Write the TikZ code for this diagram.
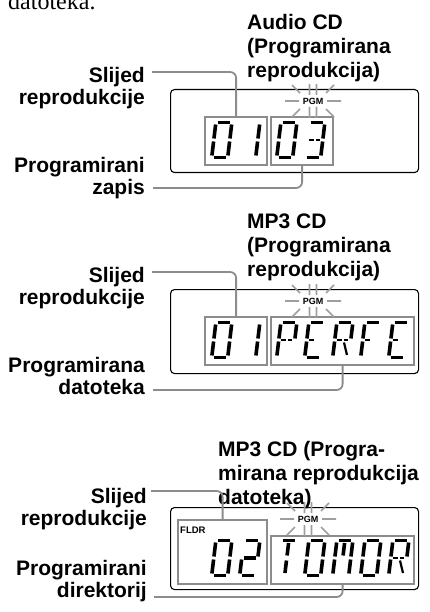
\documentclass[tikz,border=0pt]{standalone}
\usepackage{fontspec}
\setmainfont{Liberation Sans}
\newfontfamily\textoserif{Liberation Serif}
\usetikzlibrary{positioning}

\definecolor{lcdgris}{gray}{0.55}
\definecolor{rayogris}{gray}{0.62}

% segmentos del visor (origen abajo a la izquierda, en pt)
\newcommand{\lcdsega}{\draw[segm] (3.5pt,36.5pt)--(15.5pt,36.5pt);}
\newcommand{\lcdsegb}{\draw[segm] (17.5pt,34.5pt)--(17.5pt,20.5pt);}
\newcommand{\lcdsegc}{\draw[segm] (17.5pt,17.5pt)--(17.5pt,3.5pt);}
\newcommand{\lcdsegd}{\draw[segm] (3.5pt,1.5pt)--(15.5pt,1.5pt);}
\newcommand{\lcdsege}{\draw[segm] (1.5pt,3.5pt)--(1.5pt,17.5pt);}
\newcommand{\lcdsegf}{\draw[segm] (1.5pt,20.5pt)--(1.5pt,34.5pt);}
\newcommand{\lcdsegg}{\draw[segm] (3.5pt,19pt)--(15.5pt,19pt);}
\newcommand{\lcdsegi}{\draw[medio] (4pt,19pt)--(8.5pt,19pt);}
\newcommand{\lcdsegj}{\draw[medio] (10.5pt,19pt)--(15pt,19pt);}
\newcommand{\lcdsegt}{\draw[segm] (9.5pt,34pt)--(9.5pt,21.5pt);}
\newcommand{\lcdsegu}{\draw[segm] (9.5pt,16.5pt)--(9.5pt,4pt);}
\newcommand{\lcdsegk}{\draw[medio] (11pt,16.5pt)--(15.5pt,4pt);}
\newcommand{\lcdchar}[3]{%
  \begin{scope}[shift={(#1,#2)},xslant=0.12]
    \foreach \s in {#3} {\csname lcdseg\s\endcsname}
  \end{scope}}
% destellos alrededor de PGM
\newcommand{\rayos}{%
  \draw[rayo] (-28,0)--(-14,0) (14,0)--(28,0)
    (-3.5,-17)--(-3.5,-6) (3.5,-17)--(3.5,-6)
    (-3.5,6)--(-3.5,17) (3.5,6)--(3.5,17)
    (-21,-16)--(-13,-8) (21,-16)--(13,-8)
    (-21,16)--(-13,8) (21,16)--(13,8);}

\begin{document}
\begin{tikzpicture}[x=1pt,y=-1pt,
  etiq/.style={align=right,anchor=north east,inner sep=0,
               font=\bfseries\fontsize{21}{22}\selectfont},
  titulo/.style={align=left,anchor=north west,inner sep=0,
               font=\bfseries\fontsize{21}{24}\selectfont},
  visor/.style={draw,line width=1.1pt,rounded corners=4pt,inner sep=0,anchor=north west},
  gbox/.style={draw=lcdgris,line width=2.2pt,inner sep=0,anchor=north west},
  leader/.style={draw=lcdgris,line width=1.8pt,rounded corners=6pt},
  segm/.style={line width=3.6pt},
  medio/.style={line width=2.2pt},
  rayo/.style={draw=rayogris,line width=1.6pt},
  pgm/.style={inner sep=0,font=\bfseries\fontsize{9}{9}\selectfont},
  fldr/.style={inner sep=0,anchor=west,font=\bfseries\fontsize{9.5}{9.5}\selectfont}]
  \clip (0,0) rectangle (430,612);
  \node[anchor=base west,inner sep=0,font=\textoserif\fontsize{24}{24}\selectfont] (prev) at (8,9.5) {datoteka.};

  % Audio CD
  \node[titulo] (titA) at (247,14) {Audio CD\\(Programirana\\reprodukcija)};
  \node[etiq] (slijA) at (145,67) {Slijed\\reprodukcije};
  \node[etiq] (progA) at (145,157) {Programirani\\zapis};
  \node[visor,minimum width=248,minimum height=83] (visA) at (170,89) {};
  \node[gbox,minimum width=62,minimum height=48] (izqA) at (204,116) {};
  \node[gbox,minimum width=62,minimum height=48] (derA) at (270,116) {};
  \node[pgm] (pgmA) at (313,101) {PGM};
  \begin{scope}[shift={(pgmA.center)}]\rayos\end{scope}
  \lcdchar{210}{159}{a,b,c,d,e,f}
  \lcdchar{238}{159}{b,c}
  \lcdchar{275}{159}{a,b,c,d,e,f}
  \lcdchar{303}{159}{a,b,c,d,i,j}
  \draw[leader] ([shift={(7,5)}]slijA.north east) -| (izqA.north);
  \draw[leader] ([shift={(8,31)}]progA.north east) -| (derA.south);

  % MP3 CD
  \node[titulo] (titB) at (247,214) {MP3 CD\\(Programirana\\reprodukcija)};
  \node[etiq] (slijB) at (145,267) {Slijed\\reprodukcije};
  \node[etiq] (progB) at (145,357) {Programirana\\datoteka};
  \node[visor,minimum width=248,minimum height=84] (visB) at (170,289) {};
  \node[gbox,minimum width=62,minimum height=48] (izqB) at (204,316) {};
  \node[gbox,minimum width=143,minimum height=48] (derB) at (270,316) {};
  \node[pgm] (pgmB) at (313,301) {PGM};
  \begin{scope}[shift={(pgmB.center)}]\rayos\end{scope}
  \lcdchar{210}{359}{a,b,c,d,e,f}
  \lcdchar{238}{359}{b,c}
  \lcdchar{275}{359}{a,b,e,f,i,j}
  \lcdchar{303}{359}{a,d,e,f,i}
  \lcdchar{331}{359}{a,b,e,f,i,j,k}
  \lcdchar{359}{359}{a,e,f,i}
  \lcdchar{387}{359}{a,d,e,f,i}
  \draw[leader] ([shift={(7,5)}]slijB.north east) -| (izqB.north);
  \draw[leader] ([shift={(8,33)}]progB.north east) -| (derB.south);

  % MP3 CD, direktorij
  \node[titulo] (titC) at (218,441) {MP3 CD (Progra-\\mirana reprodukcija\\datoteka)};
  \node[etiq] (slijC) at (147,488) {Slijed\\reprodukcije};
  \node[etiq] (progC) at (147,560) {Programirani\\direktorij};
  \node[visor,minimum width=248,minimum height=82] (visC) at (170,507) {};
  \node[gbox,minimum width=89,minimum height=64] (izqC) at (177,519) {};
  \node[gbox,minimum width=143,minimum height=48] (derC) at (270,535) {};
  \node[fldr] (fldrC) at (180,530) {FLDR};
  \node[pgm] (pgmC) at (308,519) {PGM};
  \begin{scope}[shift={(pgmC.center)}]\rayos\end{scope}
  \lcdchar{210}{577}{a,b,c,d,e,f}
  \lcdchar{238}{577}{a,b,g,e,d}
  \lcdchar{275}{577}{a,t,u}
  \lcdchar{303}{577}{a,b,c,d,e,f}
  \lcdchar{331}{577}{a,b,c,e,f,t}
  \lcdchar{359}{577}{a,b,c,d,e,f}
  \lcdchar{387}{577}{a,b,e,f,i,j,k}
  \draw[leader] ([shift={(4,3)}]slijC.north east) -| (izqC.north);
  \draw[leader] ([shift={(7,37)}]progC.north east) -| (derC.south);
\end{tikzpicture}
\end{document}
